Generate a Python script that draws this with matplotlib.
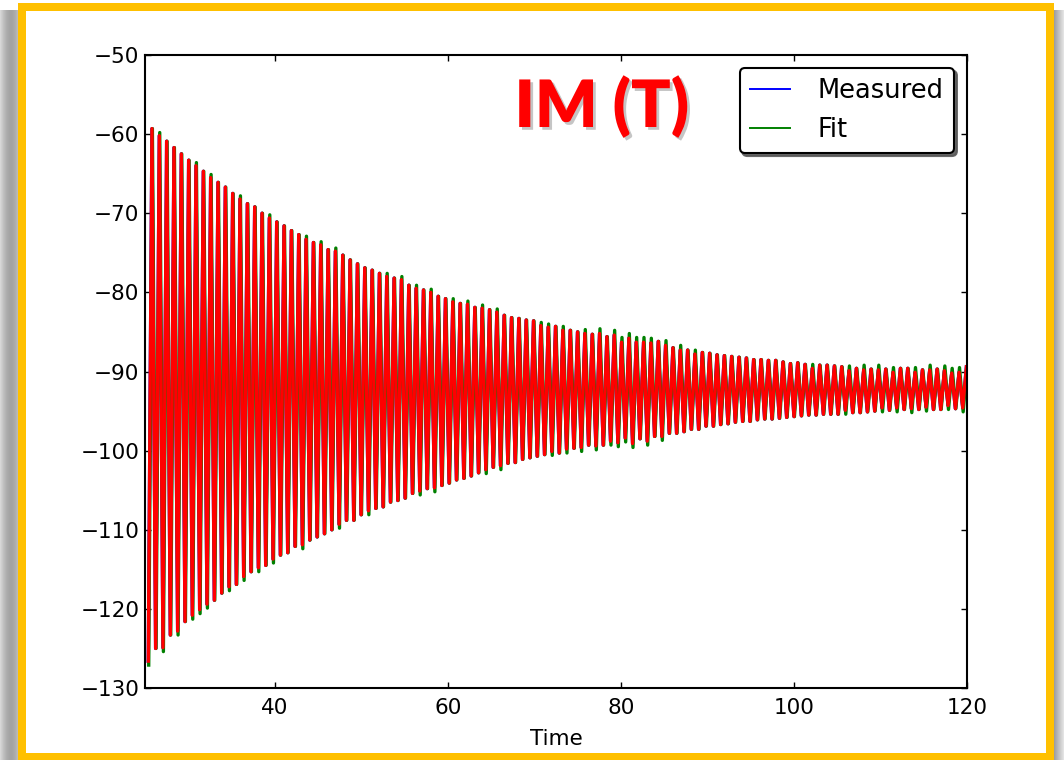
import numpy as np
import matplotlib
matplotlib.use("Agg")
import matplotlib.pyplot as plt
import matplotlib.patheffects as pe
from matplotlib.patches import Rectangle

# peak values, one per half cycle (trough, crest, trough, ...)
t_start = 25.38      # time of the first trough
half_period = 0.424  # time between a trough and the next crest
fit_lag = 0.05       # the fit runs a hair behind the measured trace

# crests of the fit (green) and of the measured trace (red / blue)
fit_hi = [
    -59.3, -59.8, -60.9, -61.7, -62.5, -63.3, -63.6, -64.7, -65.1, -66.1,
    -66.7, -67.5, -67.8, -68.8, -69.2, -70.0, -70.2, -71.1, -71.6, -72.2,
    -72.7, -72.9, -73.7, -73.6, -74.6, -74.4, -75.3, -75.9, -76.4, -76.9,
    -77.2, -77.6, -77.6, -78.2, -78.0, -79.1, -79.1, -79.7, -79.6, -80.5,
    -80.8, -80.8, -81.4, -81.1, -81.9, -81.6, -82.2, -82.1, -82.9, -83.2,
    -83.3, -83.5, -83.6, -83.8, -84.0, -84.3, -84.3, -84.8, -85.0, -84.7,
    -85.3, -84.6, -85.6, -84.8, -85.7, -85.2, -85.7, -85.7, -85.8, -86.2,
    -86.1, -87.0, -86.7, -87.3, -87.3, -87.6, -87.7, -87.9, -88.0, -88.1,
    -88.2, -88.3, -88.5, -88.5, -88.6, -88.6, -88.8, -89.0, -88.9, -89.1,
    -89.1, -89.2, -89.2, -89.3, -89.4, -89.3, -89.6, -89.2, -89.7, -89.2,
    -89.7, -89.5, -89.6, -89.6, -89.5, -89.8, -89.2, -89.7, -89.3, -89.6,
    -89.5, -89.4,
]
meas_hi = [
    -59.3, -60.2, -60.9, -61.7, -62.5, -63.3, -64.0, -64.7, -65.5, -66.1,
    -66.7, -67.5, -68.2, -68.8, -69.2, -70.0, -70.6, -71.1, -71.6, -72.2,
    -72.7, -73.3, -73.7, -74.0, -74.6, -74.8, -75.3, -75.9, -76.4, -76.9,
    -77.2, -77.6, -78.0, -78.2, -78.4, -79.1, -79.5, -79.7, -80.0, -80.5,
    -80.8, -81.2, -81.4, -81.5, -81.9, -82.0, -82.2, -82.5, -82.9, -83.2,
    -83.3, -83.5, -83.6, -84.2, -84.4, -84.3, -84.8, -84.8, -85.0, -85.2,
    -85.3, -85.2, -85.6, -85.4, -86.3, -85.8, -86.3, -86.3, -86.4, -86.2,
    -86.7, -87.0, -87.3, -87.3, -87.8, -87.6, -87.7, -87.9, -88.0, -88.1,
    -88.2, -88.3, -88.5, -88.5, -88.6, -88.6, -88.8, -89.0, -88.9, -89.1,
    -89.6, -89.2, -89.2, -89.3, -89.4, -89.9, -89.6, -89.8, -89.7, -89.8,
    -89.7, -90.1, -89.6, -89.6, -90.1, -89.8, -89.8, -89.7, -89.9, -90.2,
    -90.1, -89.4,
]

# troughs of the fit and of the measured trace
fit_lo = [
    -127.1, -125.0, -125.4, -123.3, -123.3, -121.6, -121.3, -120.6, -119.9, -118.9,
    -118.0, -117.7, -116.9, -116.4, -115.3, -115.3, -114.5, -114.2, -113.2, -112.9,
    -112.1, -112.4, -111.3, -110.9, -110.5, -110.0, -109.8, -108.8, -108.8, -108.1,
    -108.1, -107.3, -107.1, -106.5, -106.3, -106.0, -105.4, -105.6, -104.8, -105.2,
    -104.4, -104.1, -103.7, -103.5, -103.2, -102.8, -102.9, -102.1, -102.4, -101.6,
    -101.5, -101.1, -100.9, -100.7, -100.5, -100.6, -100.3, -100.3, -99.7, -100.1,
    -99.3, -99.9, -99.3, -99.3, -99.5, -98.9, -99.6, -98.5, -99.3, -98.2,
    -98.7, -97.8, -97.8, -97.6, -97.3, -97.3, -96.9, -96.9, -96.7, -96.6,
    -96.4, -96.3, -96.3, -96.1, -96.0, -96.0, -95.9, -95.8, -95.7, -95.6,
    -95.5, -95.5, -95.4, -95.4, -95.4, -95.4, -95.2, -95.2, -95.1, -95.0,
    -95.1, -94.9, -95.1, -94.8, -95.2, -94.8, -95.0, -94.8, -94.8, -94.8,
    -94.7, -95.1,
]
meas_lo = [
    -126.6, -125.0, -124.9, -123.3, -122.8, -121.6, -120.8, -120.1, -119.4, -118.9,
    -118.0, -117.2, -116.9, -115.9, -115.3, -114.8, -114.5, -113.7, -113.2, -112.9,
    -112.1, -111.9, -111.3, -110.9, -110.5, -110.0, -109.3, -108.8, -108.8, -108.1,
    -107.6, -107.3, -107.1, -106.5, -106.3, -106.0, -105.4, -105.1, -104.8, -104.7,
    -104.4, -104.1, -103.7, -103.5, -103.2, -102.8, -102.4, -102.1, -101.9, -101.6,
    -101.5, -101.1, -100.9, -100.7, -100.5, -100.1, -100.3, -99.8, -99.7, -99.6,
    -99.3, -99.4, -99.3, -98.8, -99.0, -98.4, -99.1, -98.5, -98.8, -98.2,
    -98.2, -97.8, -97.8, -97.6, -97.3, -97.3, -96.9, -96.9, -96.7, -96.6,
    -96.4, -96.3, -96.3, -96.1, -96.0, -96.0, -95.9, -95.8, -95.7, -95.6,
    -95.5, -95.5, -95.4, -95.4, -95.4, -94.9, -95.2, -95.2, -95.1, -95.0,
    -94.6, -94.9, -94.6, -94.8, -94.7, -94.8, -94.5, -94.8, -94.8, -94.3,
    -94.7, -94.6,
]

x_ticks = [40, 60, 80, 100, 120]
y_ticks = [-130, -120, -110, -100, -90, -80, -70, -60, -50]
labels = ["Measured", "Fit"]
title = "IM (T)"


def trace(lo, hi, lag=0.0):
    y = np.empty(len(lo) + len(hi))
    y[0::2] = lo
    y[1::2] = hi
    t = t_start + lag + half_period * np.arange(len(y))
    return t, y


W, H = 1064, 760
fig = plt.figure(figsize=(W / 100, H / 100), dpi=100)
fig.patch.set_facecolor("white")


def px_rect(x0, y0, x1, y1, **kw):
    # rectangle given in image pixels (origin top-left), kept behind the axes
    r = Rectangle((x0 / W, 1 - y1 / H), (x1 - x0) / W, (y1 - y0) / H,
                  transform=fig.transFigure, linewidth=0, zorder=-5, **kw)
    fig.patches.append(r)


# slide frame: soft grey shadow, yellow border
for i in range(18):
    g = 0.86 - 0.22 * np.sin(np.pi * (i + 0.5) / 22)
    px_rect(i, 10, i + 1, 760, facecolor=(g, g, g))
for i in range(10):
    g = 0.62 + 0.03 * i
    px_rect(1054 + i, 10, 1055 + i, 760, facecolor=(g, g, g))
px_rect(18, 3, 1054, 770, facecolor="#FFC000")
px_rect(26, 11, 1046, 753, facecolor="white")

ax = fig.add_axes([145 / W, 1 - 688 / H, (967 - 145) / W, (688 - 55) / H])
ax.set_facecolor("none")

t_m, y_m = trace(meas_lo, meas_hi)
t_f, y_f = trace(fit_lo, fit_hi, fit_lag)
l_meas, = ax.plot(t_m, y_m, color="blue", lw=2.4, label=labels[0])
l_fit, = ax.plot(t_f, y_f, color="green", lw=2.4, label=labels[1])
ax.plot(t_m, y_m, color="red", lw=2.4)

ax.set_xlim(25, 120)
ax.set_ylim(-130, -50)
ax.set_xticks(x_ticks)
ax.set_yticks(y_ticks)
ax.tick_params(direction="in", top=True, right=True, length=4.5, width=1,
               labelsize=15.5, color="black")
ax.tick_params(axis="y", pad=4)
ax.tick_params(axis="x", pad=7)
for s in ax.spines.values():
    s.set_linewidth(1.5)
ax.set_xlabel("Time", fontsize=15.5, labelpad=8)

leg = ax.legend(handles=[l_meas, l_fit], loc="upper right", fontsize=18.5,
                fancybox=True, shadow={"color": "0.35", "alpha": 0.9},
                framealpha=1, edgecolor="black", handlelength=1.55,
                handletextpad=1.1, labelspacing=0.5, borderaxespad=0.5,
                borderpad=0.4)
leg.get_frame().set_linewidth(1.5)
for ln in leg.get_lines():
    ln.set_linewidth(1.4)

fig.text(602 / W, 1 - 127 / H, title, ha="center", va="baseline",
         fontsize=47, fontweight="heavy", family="Lato", color="#FF0000",
         path_effects=[pe.withSimplePatchShadow(offset=(2, -2),
                                                shadow_rgbFace="#7f7f7f",
                                                alpha=0.45)])

fig.savefig("out.png", dpi=100)
